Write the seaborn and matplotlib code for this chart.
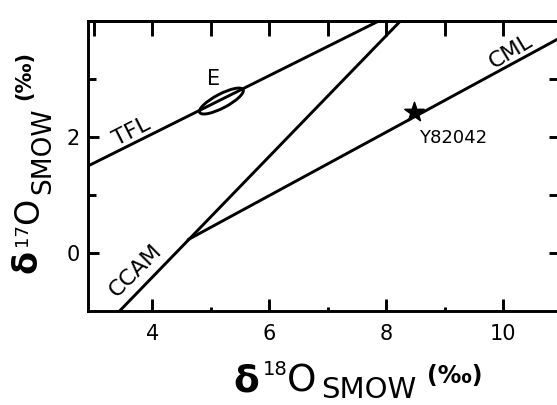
import numpy as np
import pandas as pd
import matplotlib
matplotlib.use("Agg")
import matplotlib.pyplot as plt
import seaborn as sns
from matplotlib.patches import Ellipse

# ---- data ----
tfl_x = [2.9, 7.87]
tfl_y = [1.5, 4.0]
ccam_x = [3.44, 8.24]
ccam_y = [-1.0, 4.0]
cml_x = [4.61, 10.95]
cml_y = [0.23, 3.70]
star_x = [8.47]
star_y = [2.43]
ellipse_center = (5.18, 2.62)
ellipse_len = 0.84
ellipse_thick = 0.24
ellipse_angle = 28

x_major = [4, 6, 8, 10]
x_minor = [5, 7, 9]
x_top = [3, 4, 5, 6, 7, 8, 9, 10]
y_major = [0, 2]
y_minor = [1, 3]
y_right = [0, 1, 2, 3]

sns.set_theme(style="white")
plt.rcParams["font.family"] = ["DejaVu Sans"]
plt.rcParams["text.color"] = "black"
plt.rcParams["xtick.color"] = "black"
plt.rcParams["ytick.color"] = "black"
plt.rcParams["xtick.labelcolor"] = "black"
plt.rcParams["ytick.labelcolor"] = "black"

W, H = 557, 405
fig = plt.figure(figsize=(W / 100, H / 100), dpi=100)
ax = fig.add_axes([88 / W, 1 - 311 / H, (559 - 88) / W, (311 - 21) / H])

lw = 2.1
lines = pd.DataFrame({
    "x": tfl_x + ccam_x + cml_x,
    "y": tfl_y + ccam_y + cml_y,
    "line": ["TFL"] * 2 + ["CCAM"] * 2 + ["CML"] * 2,
})
sns.lineplot(data=lines, x="x", y="y", units="line", estimator=None,
             color="black", lw=lw, ax=ax, sort=False)
sns.scatterplot(x=star_x, y=star_y, marker="*", s=210, color="black",
                edgecolor="black", ax=ax, zorder=5)
ax.add_patch(Ellipse(ellipse_center, ellipse_len, ellipse_thick, angle=ellipse_angle,
                     fill=False, edgecolor="black", lw=lw))

ax.set_xlim(2.9, 10.95)
ax.set_ylim(-1.0, 4.0)
ax.set_xlabel("")
ax.set_ylabel("")

for s in ax.spines.values():
    s.set_linewidth(lw)
    s.set_color("black")

ax.set_xticks(x_major)
ax.set_xticks(x_minor, minor=True)
ax.set_yticks(y_major)
ax.set_yticks(y_minor, minor=True)
ax.tick_params(axis="x", which="major", direction="in", length=9, width=lw,
               bottom=True, top=False, labelsize=15, pad=9)
ax.tick_params(axis="x", which="minor", direction="in", length=3, width=lw,
               bottom=True, top=False)
ax.tick_params(axis="y", which="major", direction="in", length=8, width=lw,
               left=True, right=False, labelsize=15, pad=6)
ax.tick_params(axis="y", which="minor", direction="in", length=6, width=lw,
               left=True, right=False)

top = ax.secondary_xaxis("top")
top.set_xticks(x_top)
top.tick_params(direction="in", length=11, width=lw, labeltop=False)
top.spines["top"].set_linewidth(lw)
right = ax.secondary_yaxis("right")
right.set_yticks(y_right)
right.tick_params(direction="in", length=7, width=lw, labelright=False)

# line labels
fs = 16
ax.text(3.64, 2.09, "TFL", rotation=27, ha="center", va="center", fontsize=fs)
ax.text(5.05, 3.0, "E", ha="center", va="center", fontsize=15)
ax.text(3.72, -0.31, "CCAM", rotation=45, ha="center", va="center", fontsize=fs)
ax.text(10.12, 3.47, "CML", rotation=31, ha="center", va="center", fontsize=fs)
ax.text(8.56, 1.99, "Y82042", ha="left", va="center", fontsize=13)

# axis titles built from pieces
def ft(xp, yp, s, size, weight="normal", rot=0):
    fig.text(xp / W, 1 - yp / H, s, fontsize=size, fontweight=weight,
             rotation=rot, rotation_mode="anchor", ha="left", va="baseline")

ft(233, 391, "δ", 27, "bold")
ft(263, 375, "18", 14)
ft(287, 391, "O", 27)
ft(321, 398, "SMOW", 21)
ft(427, 383, "(‰)", 17, "bold")

ft(37, 273, "δ", 24, "bold", 90)
ft(27, 246, "17", 13, "normal", 90)
ft(38, 224, "O", 24, "normal", 90)
ft(50, 194, "SMOW", 19, "normal", 90)
ft(30, 100, "(‰)", 15, "bold", 90)

fig.savefig("out.png", dpi=100)
